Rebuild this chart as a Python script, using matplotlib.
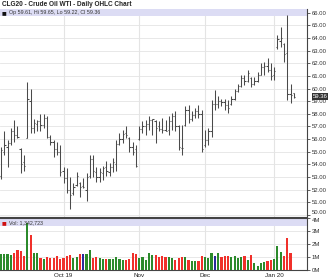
import numpy as np
import pandas as pd
import matplotlib
matplotlib.use('Agg')
import matplotlib.pyplot as plt
from matplotlib.patches import Rectangle

plt.rcParams['font.family'] = ['Liberation Sans', 'DejaVu Sans']

# trading days shown on the chart
holidays = ['2019-11-28', '2019-12-25', '2020-01-01']
dates = pd.bdate_range('2019-09-04', '2020-01-10')
dates = dates[~dates.isin(pd.to_datetime(holidays))]

opens = [53.1, 55.0, 55.4, 55.7, 56.6, 56.3, 55.2, 54.2, 56.1, 59.0,
         56.9, 57.2, 57.4, 57.1, 57.7, 56.2, 55.8, 55.2, 55.0, 53.5,
         52.9, 52.0, 51.7, 52.4, 52.5, 52.3, 52.0, 53.1, 54.4, 53.4,
         53.0, 53.3, 53.8, 53.4, 53.8, 54.0, 55.6, 56.0, 56.5, 56.1,
         55.4, 55.2, 56.0, 56.8, 57.0, 57.2, 57.5, 57.4, 57.0, 56.8,
         56.7, 56.7, 57.4, 57.8, 57.0, 55.3, 57.1, 58.3, 57.6, 57.9,
         58.2, 58.0, 55.5, 55.9, 56.6, 58.8, 58.8, 59.0, 58.9, 58.7,
         58.8, 59.2, 59.8, 60.2, 60.8, 60.6, 60.8, 60.4, 60.6, 61.1,
         61.7, 61.8, 61.5, 61.1, 63.3, 63.8, 63.5, 62.8, 59.6, 59.61]
highs = [55.4, 56.6, 55.9, 56.85, 57.5, 57.0, 55.3, 54.7, 60.5, 60.0,
         57.6, 57.5, 58.0, 58.0, 57.8, 56.3, 55.9, 55.8, 55.5, 53.8,
         53.7, 53.0, 52.5, 53.4, 52.6, 52.9, 53.3, 54.7, 54.7, 53.8,
         53.7, 53.9, 54.3, 54.1, 54.5, 55.9, 56.5, 56.7, 57.0, 56.2,
         55.8, 55.5, 57.0, 57.4, 57.5, 57.8, 57.6, 57.5, 57.4, 57.7,
         57.5, 57.8, 58.1, 58.2, 57.1, 57.1, 58.6, 58.7, 58.2, 58.5,
         58.7, 58.3, 56.7, 56.9, 59.1, 59.9, 59.4, 59.2, 59.2, 59.1,
         59.4, 60.0, 60.4, 61.1, 61.1, 61.5, 60.9, 60.9, 61.3, 62.0,
         62.1, 62.4, 62.0, 61.7, 64.25, 64.9, 63.6, 65.8, 60.4, 59.65]
lows = [52.8, 54.7, 53.8, 55.5, 55.8, 56.05, 53.3, 53.5, 56.1, 56.45,
        56.45, 56.6, 56.6, 56.85, 56.05, 55.5, 54.6, 54.7, 53.1, 52.5,
        51.7, 50.5, 51.6, 52.3, 51.4, 52.1, 51.1, 52.9, 53.0, 52.6,
        52.6, 52.75, 53.1, 53.1, 53.4, 53.5, 55.5, 55.7, 56.1, 55.0,
        54.7, 53.8, 55.9, 56.45, 56.3, 56.7, 56.3, 55.7, 56.6, 56.5,
        56.6, 56.3, 56.7, 56.6, 55.1, 54.7, 57.0, 57.3, 57.4, 57.7,
        57.7, 55.0, 55.4, 55.5, 56.2, 58.3, 58.5, 58.6, 58.3, 58.1,
        58.7, 59.1, 59.75, 60.15, 60.3, 60.55, 60.15, 60.3, 60.5, 61.1,
        61.1, 61.3, 60.7, 60.7, 63.1, 63.3, 62.1, 59.1, 58.85, 59.22]
closes = [55.1, 55.5, 55.7, 56.6, 56.3, 56.2, 54.0, 53.9, 59.2, 56.9,
          57.3, 57.4, 57.1, 57.7, 56.2, 55.8, 55.2, 55.0, 53.4, 52.9,
          52.0, 51.6, 52.2, 53.1, 52.2, 52.2, 53.0, 54.4, 53.5, 53.0,
          53.4, 53.7, 53.5, 53.8, 54.2, 55.6, 56.0, 56.4, 56.3, 55.4,
          55.0, 53.9, 56.8, 57.0, 57.2, 57.5, 57.55, 56.9, 56.8, 56.7,
          56.65, 57.4, 57.8, 57.0, 55.4, 55.3, 58.3, 57.6, 57.9, 58.2,
          58.0, 55.2, 55.9, 56.6, 58.8, 58.8, 59.0, 58.9, 58.7, 58.5,
          59.2, 59.8, 60.2, 60.8, 60.6, 61.2, 60.4, 60.6, 61.1, 61.7,
          61.8, 61.5, 61.0, 61.4, 63.9, 64.0, 62.7, 59.6, 59.5, 59.36]
volumes_m = [1.20, 1.23, 1.21, 1.15, 1.33, 1.54, 1.46, 1.08, 3.59, 2.69,
             1.33, 1.28, 0.92, 0.82, 0.97, 0.92, 0.95, 1.08, 0.87, 0.95,
             1.08, 1.15, 0.95, 1.03, 1.23, 1.21, 1.23, 1.54, 0.95, 1.03,
             0.95, 0.87, 0.87, 0.82, 0.82, 1.03, 0.85, 0.77, 0.77, 0.85,
             1.28, 1.21, 0.95, 1.03, 0.77, 1.33, 1.15, 1.15, 0.97, 1.08,
             1.03, 1.03, 0.90, 0.77, 0.95, 0.97, 1.03, 0.77, 0.72, 0.69,
             0.69, 1.08, 0.97, 0.90, 1.33, 1.08, 1.28, 0.97, 1.08, 1.08,
             1.03, 1.08, 0.90, 1.03, 1.08, 0.77, 1.15, 0.56, 0.31, 0.51,
             0.59, 0.72, 0.77, 0.82, 1.85, 1.40, 1.08, 2.44, 1.34, 0.0]

month_labels = ['Oct 19', 'Nov', 'Dec', 'Jan 20']
price_ticks = np.arange(50, 67, 1.0)
vol_ticks = [0, 1, 2, 3, 4]

W, H = 334, 280
fig = plt.figure(figsize=(W / 100, H / 100), dpi=100)
fig.patch.set_facecolor('white')

# pixel layout
left, right = 0, 307
p_top, p_bot = 9, 218
v_top, v_bot = 218, 270
ax = fig.add_axes([left / W, 1 - p_bot / H, (right - left) / W, (p_bot - p_top) / H])
axv = fig.add_axes([left / W, 1 - v_bot / H, (right - left) / W, (v_bot - v_top) / H], sharex=ax)

x = np.arange(len(dates))
o, h, l, c = map(np.array, (opens, highs, lows, closes))
grid_col = '#e4e4e4'
bar_col = '#4a4a4a'
tk = 0.38

# month boundaries
month_pos = [i for i in range(1, len(dates)) if dates[i].month != dates[i - 1].month]

# price panel
ax.vlines(x, l, h, color=bar_col, lw=0.75, zorder=3)
ax.hlines(o, x - tk, x, color=bar_col, lw=0.75, zorder=3)
ax.hlines(c, x, x + tk, color=bar_col, lw=0.75, zorder=3)
ax.set_xlim(-0.3, 93.0)
ax.set_ylim(49.75, 66.3)
ax.set_yticks(price_ticks)
ax.set_yticklabels(['%.2f' % v for v in price_ticks])
ax.yaxis.tick_right()
ax.tick_params(axis='y', length=2, width=0.6, color='#444444', labelsize=4.3,
               labelcolor='#333333', pad=1.5)
ax.get_yticklabels()[0].set_va('bottom')
ax.tick_params(axis='x', bottom=False, labelbottom=False)
for yv in price_ticks:
    ax.axhline(yv, color=grid_col, lw=0.6, zorder=0)
for mp in month_pos:
    ax.axvline(mp, color=grid_col, lw=0.8, zorder=0)
for s in ['top', 'left', 'bottom']:
    ax.spines[s].set_visible(False)
ax.spines['right'].set_color('#444444')
ax.spines['right'].set_linewidth(0.8)

# header band
ax.add_patch(Rectangle((0, 1 - 7 / 209), 1, 7 / 209, transform=ax.transAxes,
                       facecolor='#dcdcf4', edgecolor='none', zorder=1))
ax.text(0.006, 1 - 3.6 / 209, '\u25a0', transform=ax.transAxes, fontsize=3.6,
        color='#111111', va='center', ha='left', family=['DejaVu Sans'], zorder=5)
ax.text(0.03, 1 - 3.6 / 209, 'Op 59.61, Hi 59.65, Lo 59.22, Cl 59.36',
        transform=ax.transAxes, fontsize=3.8, color='#333333', va='center', ha='left', zorder=5)

# last price box
ax.annotate('%.2f' % closes[-1], xy=(1.0, closes[-1]), xycoords=('axes fraction', 'data'),
            xytext=(4, 0), textcoords='offset points', fontsize=4.3, color='white',
            va='center', ha='left', annotation_clip=False,
            bbox=dict(boxstyle='square,pad=0.15', facecolor='#333333', edgecolor='none'))

# volume panel
up = np.r_[True, c[1:] > c[:-1]]
same = np.r_[False, np.isclose(c[1:], c[:-1])]
vcols = np.where(same, '#2a2a9a', np.where(up, '#2b8a2b', '#f0302a'))
axv.bar(x, volumes_m, width=0.66, color=vcols, zorder=3)
axv.set_ylim(0, 4.0)
axv.set_yticks(vol_ticks)
axv.set_yticklabels(['%dM' % v for v in vol_ticks])
axv.yaxis.tick_right()
axv.tick_params(axis='y', length=2, width=0.6, color='#444444', labelsize=4.3,
                labelcolor='#333333', pad=1.5)
axv.get_yticklabels()[-1].set_va('top')
for yv in vol_ticks[1:]:
    axv.axhline(yv, color=grid_col, lw=0.6, zorder=0)
for mp in month_pos:
    axv.axvline(mp, color=grid_col, lw=0.8, zorder=0)
axv.set_xticks(month_pos)
axv.set_xticklabels(month_labels)
axv.tick_params(axis='x', length=0, labelsize=4.5, labelcolor='#222222', pad=2.5)
axv.spines['left'].set_visible(False)
axv.spines['bottom'].set_color('#444444')
axv.spines['bottom'].set_linewidth(0.8)
axv.spines['right'].set_color('#444444')
axv.spines['right'].set_linewidth(0.8)
axv.spines['top'].set_color('#444444')
axv.spines['top'].set_linewidth(1.5)

axv.add_patch(Rectangle((0, 1 - 8 / 52), 1, 7 / 52, transform=axv.transAxes,
                        facecolor='#dcdcf4', edgecolor='none', zorder=1))
axv.text(0.006, 1 - 4.4 / 52, '\u25a0', transform=axv.transAxes, fontsize=3.6,
         color='#d01010', va='center', ha='left', family=['DejaVu Sans'], zorder=5)
axv.text(0.03, 1 - 4.4 / 52, 'Vol: 1,342,723', transform=axv.transAxes, fontsize=3.8,
         color='#333333', va='center', ha='left', zorder=5)

# title
fig.text(2 / W, 1 - 5 / H, 'CLG20 - Crude Oil WTI - Daily OHLC Chart', fontsize=4.7,
         fontweight='bold', color='#222222', va='center', ha='left')

fig.savefig('out.png', dpi=100, facecolor='white')
